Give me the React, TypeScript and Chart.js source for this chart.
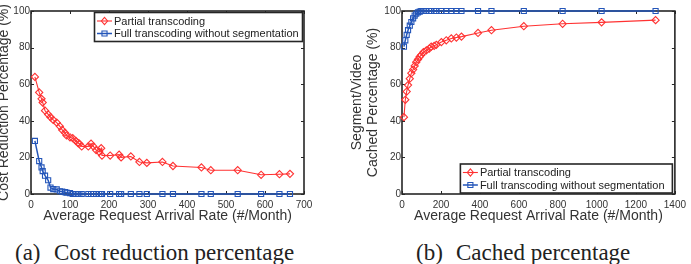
import React, { useEffect, useRef } from 'react';
import { Chart, registerables } from 'chart.js';

Chart.register(...registerables);
Chart.defaults.font.family = '"Liberation Sans", Arial, Helvetica, sans-serif';

// ---------- data ----------
const seriesLabels = ['Partial transcoding', 'Full transcoding without segmentation'];

// (a) cost reduction
const rateA = [10, 21, 27, 30, 36, 44, 50, 57, 66, 74, 80, 87, 91, 100, 107, 115, 120, 124, 130, 147, 154, 160, 167, 175, 180, 182, 203, 226, 231, 256, 278, 297, 337, 364, 437, 461, 530, 590, 637, 664];
const partialA = [64, 55.5, 52, 50, 45.5, 43.5, 42, 40.5, 39, 37, 35, 33.5, 32, 31, 30.5, 29, 28, 27.5, 26, 26, 27.5, 26, 24, 23, 25, 21, 21, 21.5, 20, 20.5, 17.5, 17, 17.5, 15.3, 14.5, 13, 13, 10.5, 10.8, 11];
const fullA = [29, 18, 14.5, 12.5, 10, 7.5, 3.5, 2.7, 2.5, 1.5, 1.3, 1, 0.7, 0.5, 0, 0, 0, 0, 0, 0, 0, 0, 0, 0, 0, 0, 0, 0, 0, 0, 0, 0, 0, 0, 0, 0, 0, 0, 0, 0];

// (b) cached percentage
const rateB = [10, 17, 24, 31, 40, 48, 57, 65, 73, 82, 91, 99, 110, 125, 140, 150, 165, 176, 202, 227, 253, 279, 305, 390, 459, 625, 824, 1024, 1301];
const partialB = [42, 51.5, 56, 59.5, 63, 66, 68, 70, 72, 73.5, 75, 76, 77.5, 78.5, 79.5, 80.5, 81, 81.5, 83, 84, 85, 85.5, 86, 88, 89.5, 91.7, 93, 93.8, 95];
const fullB = [80.5, 84, 87, 89.5, 92, 94, 96, 97.5, 98.5, 99.3, 99.7, 100, 100, 100, 100, 100, 100, 100, 100, 100, 100, 100, 100, 100, 100, 100, 100, 100, 100];

const xTitle = 'Average Request Arrival Rate (#/Month)';
const yTitleA = 'Cost Reduction Percentage (%)';
const yTitleB = ['Segment/Video', 'Cached Percentage (%)'];
const captionA = ['(a)', 'Cost reduction percentage'];
const captionB = ['(b)', 'Cached percentage'];

// ---------- styles ----------
const RED = 'rgb(255,50,50)';
const BLUE = 'rgb(35,85,185)';
const TEXT = '#333';
const FRAME = '#262626';

function drawMarker(ctx: CanvasRenderingContext2D, style: string, x: number, y: number, r: number) {
  ctx.beginPath();
  if (style === 'rectRot') {
    ctx.moveTo(x, y - r);
    ctx.lineTo(x + r * 0.85, y);
    ctx.lineTo(x, y + r);
    ctx.lineTo(x - r * 0.85, y);
    ctx.closePath();
  } else {
    const h = r * Math.SQRT1_2;
    ctx.rect(x - h, y - h, 2 * h, 2 * h);
  }
  ctx.stroke();
}

const framePlugin = {
  id: 'matFrame',
  beforeDatasetsDraw(chart: any) {
    const { ctx, chartArea } = chart;
    const { left, right, top, bottom } = chartArea;
    const xs = chart.scales.x;
    const ys = chart.scales.y;
    ctx.save();
    ctx.strokeStyle = FRAME;
    ctx.lineWidth = 1;
    const tl = 3;
    ctx.beginPath();
    xs.ticks.forEach((t: any) => {
      const px = Math.round(xs.getPixelForValue(t.value)) + 0.5;
      ctx.moveTo(px, bottom);
      ctx.lineTo(px, bottom - tl);
      ctx.moveTo(px, top);
      ctx.lineTo(px, top + tl);
    });
    ys.ticks.forEach((t: any) => {
      const py = Math.round(ys.getPixelForValue(t.value)) + 0.5;
      ctx.moveTo(left, py);
      ctx.lineTo(left + tl, py);
      ctx.moveTo(right, py);
      ctx.lineTo(right - tl, py);
    });
    ctx.stroke();
    ctx.lineWidth = 1.6;
    ctx.strokeRect(left, top, right - left, bottom - top);
    ctx.restore();
  },
};

const legendPlugin = {
  id: 'boxLegend',
  afterDraw(chart: any, _args: any, opts: any) {
    if (!opts || !opts.display) return;
    const { ctx, chartArea } = chart;
    const w = opts.width;
    const h = opts.height;
    const left = chartArea.right - opts.right - w;
    const top = opts.anchor === 'top' ? chartArea.top + opts.offset : chartArea.bottom - opts.offset - h;
    ctx.save();
    ctx.fillStyle = '#fff';
    ctx.fillRect(left, top, w, h);
    ctx.strokeStyle = FRAME;
    ctx.lineWidth = 1.6;
    ctx.strokeRect(left, top, w, h);
    ctx.font = `${opts.fontSize}px "Liberation Sans", Arial, sans-serif`;
    ctx.textBaseline = 'middle';
    ctx.textAlign = 'left';
    chart.data.datasets.forEach((ds: any, i: number) => {
      const cy = top + opts.rowTop + i * opts.rowGap;
      ctx.strokeStyle = ds.borderColor;
      ctx.lineWidth = ds.borderWidth;
      ctx.beginPath();
      ctx.moveTo(left + 2.5, cy);
      ctx.lineTo(left + 17.5, cy);
      ctx.stroke();
      ctx.lineWidth = ds.pointBorderWidth;
      drawMarker(ctx, ds.pointStyle, left + 10, cy, ds.pointRadius);
      ctx.fillStyle = '#222';
      ctx.fillText(ds.label, left + 19.5, cy + 0.5);
    });
    ctx.restore();
  },
};

function makeDatasets(rate: number[], partial: number[], full: number[]) {
  return [
    {
      label: seriesLabels[0],
      data: rate.map((r, i) => ({ x: r, y: partial[i] })),
      borderColor: RED,
      borderWidth: 1.1,
      pointStyle: 'rectRot',
      pointRadius: 3.6,
      pointBorderWidth: 1.1,
      pointBackgroundColor: 'rgba(0,0,0,0)',
      pointBorderColor: RED,
      clip: false,
    },
    {
      label: seriesLabels[1],
      data: rate.map((r, i) => ({ x: r, y: full[i] })),
      borderColor: BLUE,
      borderWidth: 1.5,
      pointStyle: 'rect',
      pointRadius: 3.6,
      pointBorderWidth: 1.1,
      pointBackgroundColor: 'rgba(0,0,0,0)',
      pointBorderColor: BLUE,
      clip: false,
    },
  ];
}

const plainTick = (v: any) => String(v);

function makeConfig(
  rate: number[],
  partial: number[],
  full: number[],
  xMax: number,
  xStep: number,
  yTitle: string | string[],
  yAxisWidth: number,
  yTitlePadTop: number,
  rightPad: number,
  legendOpts: any
): any {
  return {
    type: 'line',
    data: { datasets: makeDatasets(rate, partial, full) },
    plugins: [framePlugin, legendPlugin],
    options: {
      responsive: false,
      animation: false,
      devicePixelRatio: 1,
      layout: { padding: { left: 0, top: 11, right: rightPad, bottom: 0 } },
      plugins: {
        legend: { display: false },
        tooltip: { enabled: false },
        boxLegend: legendOpts,
      },
      elements: { line: { tension: 0 } },
      scales: {
        x: {
          type: 'linear',
          min: 0,
          max: xMax,
          grid: { display: false, drawTicks: false, tickLength: 0 },
          border: { display: false },
          ticks: {
            stepSize: xStep,
            color: TEXT,
            font: { size: 10 },
            padding: 5,
            maxRotation: 0,
            autoSkip: false,
            callback: plainTick,
          },
          title: {
            display: true,
            text: xTitle,
            color: TEXT,
            font: { size: 14 },
            padding: { top: 0, bottom: 5 },
          },
          afterFit: (s: any) => {
            s.height = 36;
          },
        },
        y: {
          type: 'linear',
          min: 0,
          max: 100,
          grid: { display: false, drawTicks: false, tickLength: 0 },
          border: { display: false },
          ticks: { stepSize: 20, color: TEXT, font: { size: 10 }, padding: 1, autoSkip: false, callback: plainTick },
          title: {
            display: true,
            text: yTitle,
            color: TEXT,
            font: { size: 14, lineHeight: '16px' },
            padding: { top: yTitlePadTop, bottom: 0 },
          },
          afterFit: (s: any) => {
            s.width = yAxisWidth;
          },
        },
      },
    },
  };
}

function ChartBox({ config, left, width, height }: { config: any; left: number; width: number; height: number }) {
  const ref = useRef<HTMLCanvasElement | null>(null);
  useEffect(() => {
    if (!ref.current) return;
    const chart = new Chart(ref.current, config);
    return () => chart.destroy();
  }, [config]);
  return (
    <canvas
      ref={ref}
      width={width}
      height={height}
      style={{ position: 'absolute', left, top: 0, width, height, display: 'block' }}
    />
  );
}

const configA = makeConfig(rateA, partialA, fullA, 700, 100, yTitleA, 31, -3.5, 41, {
  display: true,
  anchor: 'top',
  offset: 1.5,
  right: 1.5,
  width: 208,
  height: 29,
  rowTop: 8.5,
  rowGap: 12.5,
  fontSize: 11,
});

const configB = makeConfig(rateB, partialB, fullB, 1400, 200, yTitleB, 57, 4, 16, {
  display: true,
  anchor: 'bottom',
  offset: 1,
  right: 2.5,
  width: 212,
  height: 29,
  rowTop: 8.5,
  rowGap: 12.5,
  fontSize: 11,
});

const captionStyle: React.CSSProperties = {
  position: 'absolute',
  top: 241,
  fontFamily: '"Liberation Serif", "Times New Roman", serif',
  fontSize: 23,
  lineHeight: '23px',
  color: '#222',
  whiteSpace: 'nowrap',
};

export default function App() {
  useEffect(() => {
    document.body.style.margin = '0';
    document.body.style.background = '#fff';
  }, []);
  return (
    <div style={{ position: 'relative', width: 691, height: 264, overflow: 'hidden', background: '#fff' }}>
      <ChartBox config={configA} left={0} width={345} height={230} />
      <ChartBox config={configB} left={345} width={346} height={230} />
      <div style={{ ...captionStyle, left: 15 }}>{captionA[0]}</div>
      <div style={{ ...captionStyle, left: 54 }}>{captionA[1]}</div>
      <div style={{ ...captionStyle, left: 416 }}>{captionB[0]}</div>
      <div style={{ ...captionStyle, left: 456 }}>{captionB[1]}</div>
    </div>
  );
}
